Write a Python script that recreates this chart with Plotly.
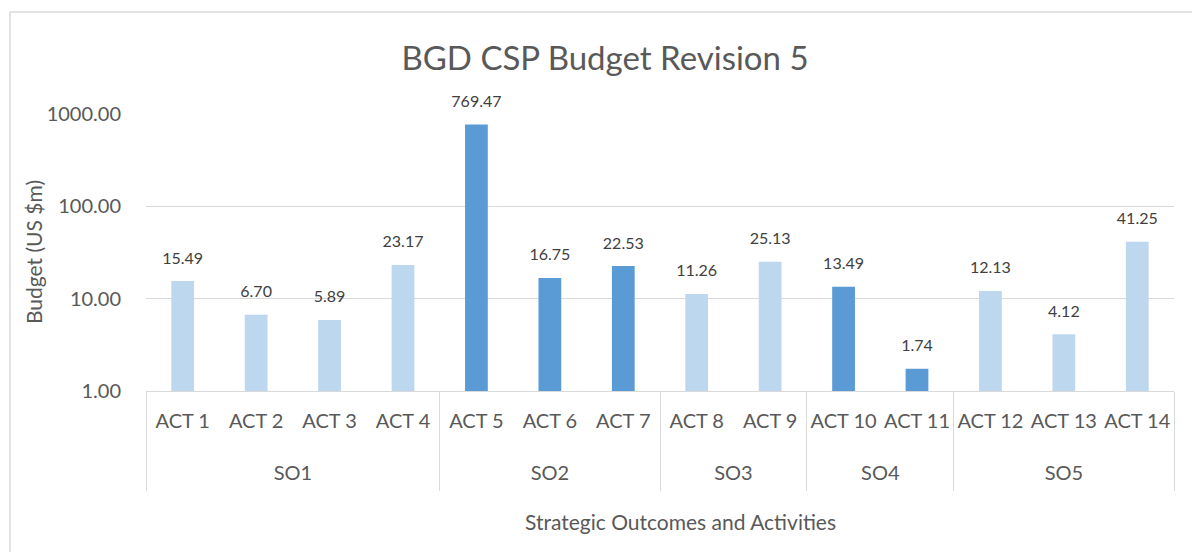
import plotly.graph_objects as go

groups = ["SO1", "SO1", "SO1", "SO1", "SO2", "SO2", "SO2", "SO3", "SO3", "SO4", "SO4", "SO5", "SO5", "SO5"]
activities = ["ACT 1", "ACT 2", "ACT 3", "ACT 4", "ACT 5", "ACT 6", "ACT 7", "ACT 8", "ACT 9",
              "ACT 10", "ACT 11", "ACT 12", "ACT 13", "ACT 14"]
budget = [15.49, 6.70, 5.89, 23.17, 769.47, 16.75, 22.53, 11.26, 25.13, 13.49, 1.74, 12.13, 4.12, 41.25]
shade = ["light", "light", "light", "light", "dark", "dark", "dark", "light", "light",
         "dark", "dark", "light", "light", "light"]
tick_vals = [1, 10, 100, 1000]
tick_text = ["1.00", "10.00", "100.00", "1000.00"]

palette = {"light": "#BDD7EE", "dark": "#5B9BD5"}
FONT = "Lato"

# blank spacer pieces in the category labels only add vertical room (row spacing, divider length)
act_labels = [a + "<br><span style='font-size:52px'>&nbsp;</span>" for a in activities]
pad = "<span style='font-size:46px'>&nbsp;</span>"
group_labels = [pad + g + pad for g in groups]

fig = go.Figure()
fig.add_trace(go.Bar(
    x=[group_labels, act_labels], y=budget,
    marker=dict(color=[palette[s] for s in shade], line=dict(width=0)),
    hoverinfo="skip", showlegend=False,
))
fig.add_trace(go.Scatter(
    x=[group_labels, act_labels], y=budget, mode="markers+text",
    text=[f"{v:.2f}" for v in budget], textposition="top center",
    marker=dict(size=20, color="rgba(0,0,0,0)"),
    textfont=dict(family=FONT, size=16, color="#404040"),
    cliponaxis=False, hoverinfo="skip", showlegend=False,
))

fig.update_layout(
    width=1192, height=552,
    margin=dict(l=146, r=18, t=114, b=161),
    paper_bgcolor="white", plot_bgcolor="white",
    bargap=0.69,
    font=dict(family=FONT, color="#595959"),
    title=dict(text="BGD CSP Budget Revision 5", x=605 / 1192, xref="container", xanchor="center",
               y=1 - 58 / 552, yref="container", yanchor="middle",
               font=dict(family=FONT, size=33, color="#595959")),
    xaxis=dict(
        type="multicategory", range=[-0.5, 13.5], autorange=False,
        showline=True, linecolor="#D9D9D9", linewidth=1,
        showdividers=True, dividercolor="#D9D9D9", dividerwidth=1,
        tickfont=dict(family=FONT, size=20, color="#595959"), tickangle=0, ticklabelstandoff=12,
        showgrid=False, zeroline=False, automargin=False,
    ),
    yaxis=dict(
        type="log", range=[0, 3], tickvals=tick_vals, ticktext=tick_text,
        showgrid=True, gridcolor="#D9D9D9", gridwidth=1, zeroline=False, automargin=False,
        tickfont=dict(family=FONT, size=20, color="#595959"), ticks="", ticklabelstandoff=24,
    ),
    shapes=[dict(type="rect", xref="paper", yref="paper",
                 x0=(10 - 146) / 1028, x1=1.3, y0=-1.0, y1=(391 - 12) / 277,
                 line=dict(color="#D9D9D9", width=1.5), fillcolor="rgba(0,0,0,0)", layer="below")],
    annotations=[
        dict(text="Budget (US $m)", xref="paper", yref="paper",
             x=(33 - 146) / 1028, y=(391 - 252) / 277, textangle=-90, showarrow=False,
             xanchor="center", yanchor="middle", font=dict(family=FONT, size=21, color="#595959")),
        dict(text="Strategic Outcomes and Activities", xref="paper", yref="paper",
             x=(680 - 146) / 1028, y=(391 - 521) / 277, showarrow=False,
             xanchor="center", yanchor="middle", font=dict(family=FONT, size=21, color="#595959")),
    ],
)

fig.write_html("out.html", config={"displayModeBar": False},
               post_script="document.body.style.margin='0';")
